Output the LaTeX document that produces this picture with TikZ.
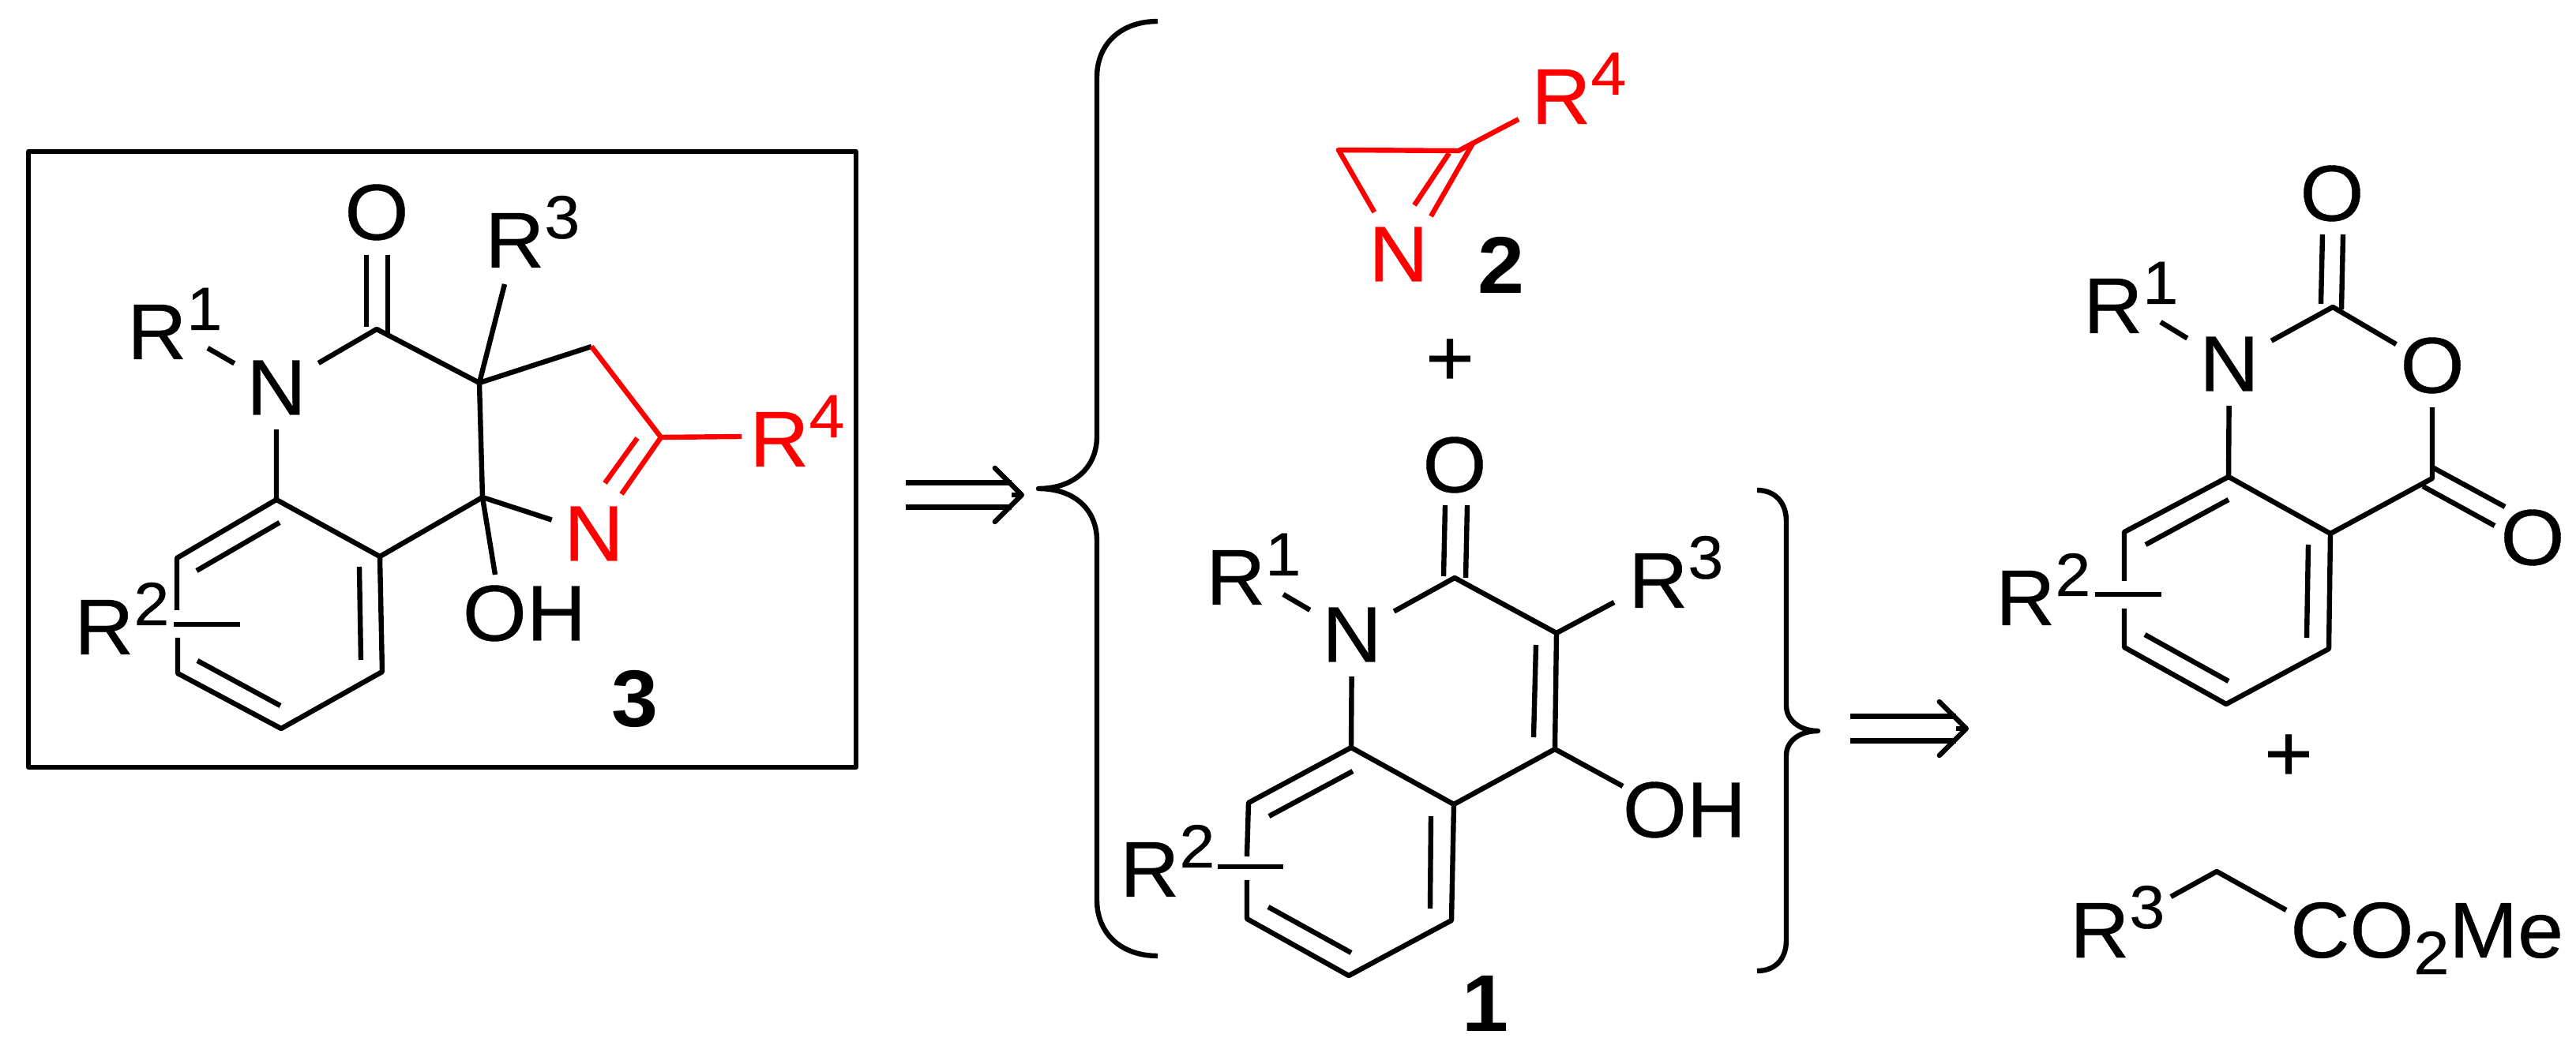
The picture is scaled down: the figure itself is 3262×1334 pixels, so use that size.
\documentclass[tikz,border=0pt]{standalone}
\usepackage{fontspec}
\setmainfont[FakeStretch=1.04,UprightFeatures={FakeBold=.4}]{Liberation Sans}
\usetikzlibrary{arrows.meta}

\newcommand{\rgrp}[1]{R\raisebox{.37cm}{\fontsize{22}{23}\selectfont #1}}
\tikzset{
    atom/.style={inner sep=0pt,minimum width=1cm,minimum height=1cm},
    oxy/.style={inner sep=0pt,minimum width=.85cm,minimum height=1cm},
    group/.style={inner sep=0pt,anchor=base west},
    cpd/.style={inner sep=0pt,font=\fontsize{29}{30}\selectfont\bfseries},
    plus/.style={inner sep=0pt,font=\fontsize{29}{30}\selectfont},
    retro/.style={double,double distance=.245cm},
    retrohead/.style={-{Straight Barb[length=.34cm,width=.68cm,round]}}
}

\begin{document}
\begin{tikzpicture}[x=.01cm,y=-.01cm,line width=.064cm,line join=round,
    every node/.append style={font=\fontsize{28.5}{30}\selectfont}]
    \useasboundingbox (0,0) rectangle (3262,1334);

    % target 3
    \draw (36,192) rectangle (1084,972);
    \coordinate (tCO) at (477,417);
    \coordinate (tQ) at (607,485);
    \coordinate (tCH) at (749,439);
    \coordinate (tCN) at (837,554);
    \coordinate (tCOH) at (611,630);
    \coordinate (tA1) at (350,633);
    \coordinate (tA2) at (224,707);
    \coordinate (tA3) at (224,773);
    \coordinate (tA4) at (225,808);
    \coordinate (tA5) at (225,853);
    \coordinate (tA6) at (356,923);
    \coordinate (tA7) at (484,851);
    \coordinate (tA8) at (481,705);
    \node[oxy] (tO) at (477,269) {O};
    \node[atom] (tN) at (350,491) {N};
    \node[atom,red] (tNr) at (752,676) {N};
    \node[group] (tR1) at (158,455) {\rgrp{1}};
    \node[group] (tR2) at (91,829) {\rgrp{2}};
    \node[group] (tR3) at (611,339) {\rgrp{3}};
    \node[group,red] (tR4) at (946,591) {\rgrp{4}};
    \node (tOH) at (664,777) {OH};
    \node[cpd] (t3) at (804,885) {3};
    \coordinate (tb1) at (263,441);
    \coordinate (tb3) at (639,360);
    \coordinate (tb4) at (939,553);
    \coordinate (tbo) at (627,728);
    \coordinate (tr2a) at (220,791);
    \coordinate (tr2b) at (304,791);
    \draw (464,323) -- (464,414);
    \draw (491,323) -- (491,422);
    \draw (tN) -- (tCO) -- (tQ) -- (tCH);
    \draw (tb1) -- (tN) -- (tA1);
    \draw (tb3) -- (tQ) -- (tCOH) -- (tA8);
    \draw (tCOH) -- (tbo);
    \draw (tCOH) -- (tNr);
    \draw (tA3) -- (tA2) -- (tA1) -- (tA8) -- (tA7) -- (tA6) -- (tA5) -- (tA4);
    \draw (tr2a) -- (tr2b);
    \draw (249,723) -- (354,662);
    \draw (455,718) -- (457,836);
    \draw (250,837) -- (355,894);
    \draw[red] (tCH) -- (tCN) -- (787,626);
    \draw[red] (807,555) -- (766,612);
    \draw[red] (tCN) -- (tb4);

    % retro arrow and big brace
    \coordinate (ra1) at (1147,627);
    \coordinate (ram) at (1281,627);
    \coordinate (ra2) at (1297,627);
    \draw[retro] (ra1) -- (ram);
    \draw[retrohead] (ram) -- (ra2);
    \draw (1466,27) .. controls (1420,27) and (1389,55) .. (1389,98) -- (1389,553)
        .. controls (1389,592) and (1360,619) .. (1315,619)
        .. controls (1360,619) and (1389,645) .. (1389,685) -- (1389,1140)
        .. controls (1389,1183) and (1420,1211) .. (1466,1211);

    % azirine 2
    \coordinate (uCH) at (1695,190);
    \coordinate (uC) at (1847,191);
    \coordinate (uE) at (1923,151);
    \node[atom,red] (uN) at (1771,322) {N};
    \node[group,red] (uR4) at (1936,157) {\rgrp{4}};
    \node[cpd] (u2) at (1901,336) {2};
    \node[plus] (uP) at (1836,459) {+};
    \draw[red] (uN) -- (uCH) -- (uC) -- (uE);
    \draw[red] (1866,180) -- (1812,274);
    \draw[red] (1835,194) -- (1791,260);

    % hydroxyquinolone 1
    \coordinate (vCO) at (1842,732);
    \coordinate (vC3) at (1971,802);
    \coordinate (vC4) at (1969,949);
    \coordinate (vA1) at (1711,947);
    \coordinate (vA2) at (1581,1017);
    \coordinate (vA3) at (1579,1085);
    \coordinate (vA4) at (1579,1115);
    \coordinate (vA5) at (1579,1164);
    \coordinate (vA6) at (1708,1236);
    \coordinate (vA7) at (1838,1166);
    \coordinate (vA8) at (1841,1019);
    \node[oxy] (vO) at (1842,589) {O};
    \node[atom] (vN) at (1712,804) {N};
    \node[group] (vR1) at (1524,766) {\rgrp{1}};
    \node[group] (vR2) at (1415,1136) {\rgrp{2}};
    \node[group] (vR3) at (2059,770) {\rgrp{3}};
    \node (vOH) at (2133,1026) {OH};
    \node[cpd] (v1) at (1881,1271) {1};
    \coordinate (vb1) at (1625,753);
    \coordinate (vb3) at (2044,763);
    \coordinate (vbo) at (2055,996);
    \coordinate (vr2a) at (1542,1098);
    \coordinate (vr2b) at (1625,1098);
    \draw (1830,640) -- (1828,730);
    \draw (1858,640) -- (1856,732);
    \draw (vN) -- (vCO) -- (vC3) -- (vC4) -- (vA8);
    \draw (vb1) -- (vN) -- (vA1);
    \draw (vb3) -- (vC3);
    \draw (vC4) -- (vbo);
    \draw (vA3) -- (vA2) -- (vA1) -- (vA8) -- (vA7) -- (vA6) -- (vA5) -- (vA4);
    \draw (vr2a) -- (vr2b);
    \draw (1945,817) -- (1942,934);
    \draw (1607,1034) -- (1713,977);
    \draw (1812,1034) -- (1811,1151);
    \draw (1606,1149) -- (1711,1207);

    % right brace and retro arrow
    \draw (2225,621) .. controls (2248,621) and (2262,637) .. (2262,660) -- (2262,894)
        .. controls (2262,913) and (2280,926) .. (2302,926)
        .. controls (2280,926) and (2262,938) .. (2262,957) -- (2262,1191)
        .. controls (2262,1215) and (2248,1230) .. (2225,1230);
    \coordinate (rb1) at (2343,923);
    \coordinate (rbm) at (2477,923);
    \coordinate (rb2) at (2493,923);
    \draw[retro] (rb1) -- (rbm);
    \draw[retrohead] (rbm) -- (rb2);

    % anhydride
    \coordinate (wCO) at (2954,389);
    \coordinate (wCE) at (3080,606);
    \coordinate (wA1) at (2822,604);
    \coordinate (wA2) at (2690,674);
    \coordinate (wA3) at (2690,736);
    \coordinate (wA4) at (2690,771);
    \coordinate (wA5) at (2690,820);
    \coordinate (wA6) at (2819,892);
    \coordinate (wA7) at (2949,822);
    \coordinate (wA8) at (2951,676);
    \node[oxy] (wO) at (2953,245) {O};
    \node[atom] (wN) at (2823,461) {N};
    \node[oxy] (wOr) at (3080,463) {O};
    \node[oxy] (wOe) at (3207,681) {O};
    \node[group] (wR1) at (2635,422) {\rgrp{1}};
    \node[group] (wR2) at (2524,792) {\rgrp{2}};
    \node[plus] (wP) at (2898,960) {+};
    \coordinate (wb1) at (2736,408);
    \coordinate (wr2a) at (2653,753);
    \coordinate (wr2b) at (2737,753);
    \draw (2941,297) -- (2939,385);
    \draw (2967,297) -- (2965,392);
    \draw (3080,592) -- (3172,642);
    \draw (3068,616) -- (3159,666);
    \draw (wN) -- (wCO) -- (wOr) -- (wCE) -- (wA8);
    \draw (wb1) -- (wN) -- (wA1);
    \draw (wA3) -- (wA2) -- (wA1) -- (wA8) -- (wA7) -- (wA6) -- (wA5) -- (wA4);
    \draw (wr2a) -- (wr2b);
    \draw (2717,690) -- (2822,633);
    \draw (2923,690) -- (2921,808);
    \draw (2716,804) -- (2822,863);

    % ester
    \coordinate (eCH) at (2807,1104);
    \coordinate (eb1) at (2749,1136);
    \coordinate (eb2) at (2895,1153);
    \node[group] (eR3) at (2618,1213) {\rgrp{3}};
    \node[group] (eE) at (2897,1213) {CO\raisebox{-.21cm}{\fontsize{22}{23}\selectfont 2}Me};
    \draw (eb1) -- (eCH) -- (eb2);
\end{tikzpicture}
\end{document}
